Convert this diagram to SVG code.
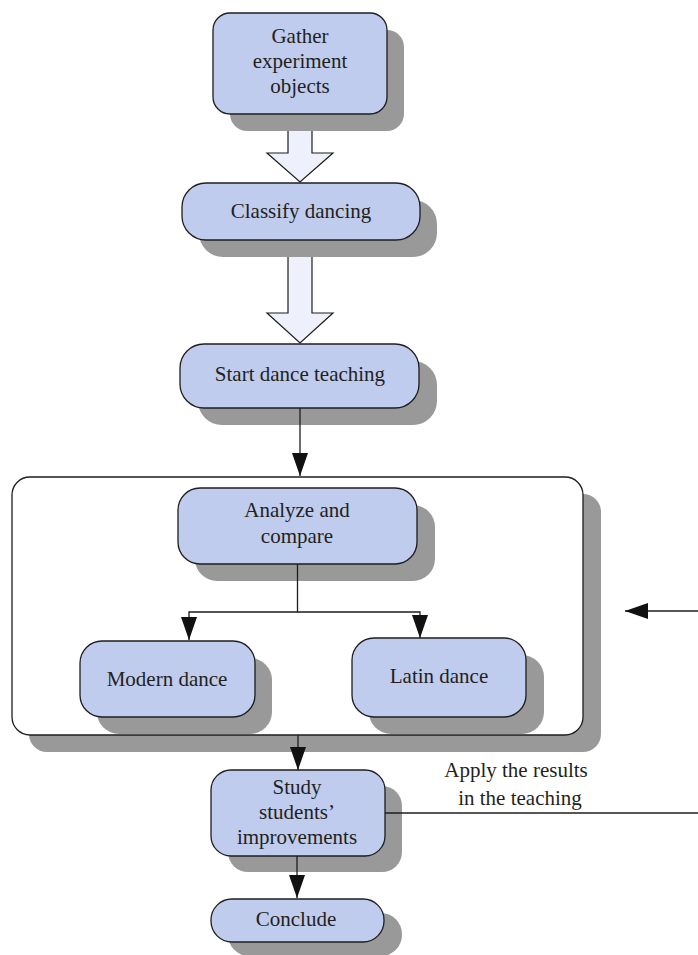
<svg xmlns="http://www.w3.org/2000/svg" width="698" height="955" viewBox="0 0 698 955">
  <style>
    .shadow { fill: #999999; stroke: none; }
    .box { fill: #c0cced; stroke: #1e1e1e; stroke-width: 1.3; }
    .frame { fill: #ffffff; stroke: #1e1e1e; stroke-width: 1.3; }
    .block { fill: #eef1fb; stroke: #1e1e1e; stroke-width: 1.2; }
    .wire { fill: none; stroke: #1e1e1e; stroke-width: 1.3; }
    .lbl { font-family: "Liberation Serif", "Times New Roman", serif; font-size: 21px; fill: #231f20; text-anchor: middle; }
  </style>
  <defs>
    <marker id="tri" markerUnits="userSpaceOnUse" markerWidth="23" markerHeight="16" refX="23" refY="8" orient="auto">
      <path d="M0,0 L23,8 L0,16 Z" fill="#111111"/>
    </marker>
  </defs>

  <!-- hollow block arrows between the first steps -->
  <g id="block-arrows">
    <polygon class="block" points="288,128 312,128 312,153 333,153 300,182 267,153 288,153"/>
    <polygon class="block" points="288,256 312,256 312,313 333,313 300,343 267,313 288,313"/>
  </g>

  <g id="gather">
    <rect class="shadow" x="230" y="30" width="174" height="101" rx="17"/>
    <rect class="box" x="213" y="13" width="174" height="101" rx="17"/>
    <text class="lbl" x="300" y="43">Gather</text>
    <text class="lbl" x="300" y="68">experiment</text>
    <text class="lbl" x="300" y="93">objects</text>
  </g>

  <g id="classify">
    <rect class="shadow" x="199" y="200" width="238" height="57" rx="24"/>
    <rect class="box" x="182" y="183" width="238" height="57" rx="24"/>
    <text class="lbl" x="301" y="218">Classify dancing</text>
  </g>

  <g id="start">
    <rect class="shadow" x="198" y="361" width="239" height="64" rx="24"/>
    <rect class="box" x="180" y="344" width="239" height="64" rx="24"/>
    <text class="lbl" x="300" y="381">Start dance teaching</text>
  </g>

  <g id="analysis-stage">
    <rect class="shadow" x="29" y="494" width="572" height="258" rx="18"/>
    <rect class="frame" x="12" y="477" width="571" height="258" rx="18"/>
  </g>

  <g id="analyze">
    <rect class="shadow" x="195" y="505" width="240" height="76" rx="22"/>
    <rect class="box" x="178" y="488" width="239" height="76" rx="22"/>
    <text class="lbl" x="297" y="517">Analyze and</text>
    <text class="lbl" x="297" y="543">compare</text>
  </g>

  <g id="modern">
    <rect class="shadow" x="97" y="658" width="175" height="76" rx="22"/>
    <rect class="box" x="80" y="641" width="175" height="76" rx="22"/>
    <text class="lbl" x="167" y="686">Modern dance</text>
  </g>

  <g id="latin">
    <rect class="shadow" x="369" y="655" width="175" height="79" rx="22"/>
    <rect class="box" x="352" y="638" width="174" height="79" rx="22"/>
    <text class="lbl" x="439" y="683">Latin dance</text>
  </g>

  <g id="study">
    <rect class="shadow" x="228" y="786" width="174" height="86" rx="20"/>
    <rect class="box" x="211" y="770" width="174" height="86" rx="20"/>
    <text class="lbl" x="297" y="794">Study</text>
    <text class="lbl" x="297" y="819">students’</text>
    <text class="lbl" x="297" y="844">improvements</text>
  </g>

  <g id="conclude">
    <rect class="shadow" x="228" y="913" width="174" height="43" rx="21"/>
    <rect class="box" x="211" y="899" width="173" height="43" rx="21"/>
    <text class="lbl" x="296" y="926">Conclude</text>
  </g>

  <g id="connectors">
    <path class="wire" d="M300,408 V476" marker-end="url(#tri)"/>
    <path class="wire" d="M297.5,564 V612 H189 V640" marker-end="url(#tri)"/>
    <path class="wire" d="M297.5,612 H420 V638" marker-end="url(#tri)"/>
    <path class="wire" d="M298,735 V770" marker-end="url(#tri)"/>
    <path class="wire" d="M297,856 V898" marker-end="url(#tri)"/>
    <path class="wire" d="M385,813 H698"/>
    <path class="wire" d="M698,611 H625" marker-end="url(#tri)"/>
  </g>

  <g id="feedback-label">
    <text class="lbl" x="516" y="777">Apply the results</text>
    <text class="lbl" x="520" y="805">in the teaching</text>
  </g>
</svg>
